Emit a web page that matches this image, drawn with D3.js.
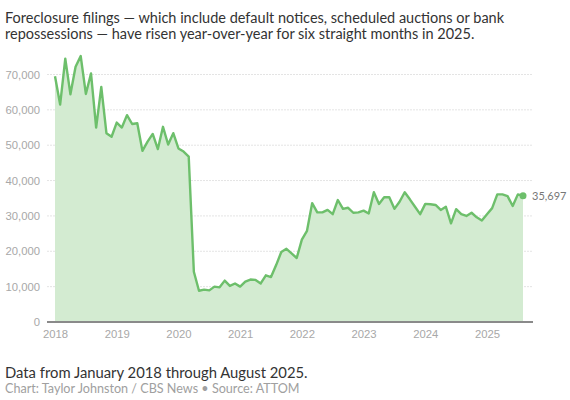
<!DOCTYPE html>
<html>
<head>
<meta charset="utf-8">
<script src="https://cdn.jsdelivr.net/npm/d3@7"></script>
<style>
  body { margin: 0; background: #fff; }
  svg { display: block; font-family: "Lato", "Open Sans", sans-serif; }
  .grid line { stroke: #e4e4e4; stroke-dasharray: 2,1; }
  .axis text { fill: #a8a8a8; font-size: 11.3px; }
</style>
</head>
<body>
<div id="chart"></div>
<script>
var svgWidth = 570;
var svgHeight = 400;

// monthly foreclosure filings, Jan 2018 .. Aug 2025
var startYear = 2018;
var filings = [
  69500, 61500, 74500, 64400, 72200, 75200, 64500, 70300, 55000, 66500, 53400, 52400,
  56400, 55000, 58500, 56000, 56200, 48400, 51000, 53200, 48900, 55200, 50200, 53400,
  49100, 48200, 46800, 14200, 8850, 9150, 8950, 10000, 9800, 11700, 10200, 10900,
  10000, 11400, 12000, 11900, 10900, 13200, 12700, 16100, 19800, 20700, 19400, 18100,
  23300, 25800, 33600, 31000, 31000, 31700, 30500, 34500, 32000, 32300, 30900, 31000,
  31500, 30700, 36700, 33400, 35300, 35300, 32000, 34000, 36700, 34700, 32600, 30500,
  33400, 33300, 33100, 31700, 32600, 27900, 31900, 30500, 30000, 30900, 29600, 28700,
  30500, 32200, 36100, 36100, 35600, 32800, 36100, 35697
];
var yTicks = [0, 10000, 20000, 30000, 40000, 50000, 60000, 70000];
var xTickYears = [2018, 2019, 2020, 2021, 2022, 2023, 2024, 2025];

var subtitle = [
  "Foreclosure filings \u2014 which include default notices, scheduled auctions or bank",
  "repossessions \u2014 have risen year-over-year for six straight months in 2025."
];
var note = "Data from January 2018 through August 2025.";
var credit = "Chart: Taylor Johnston / CBS News \u2022 Source: ATTOM";

var chartMargin = { top: 74, right: 37, bottom: 78, left: 47 };

var svg = d3.select("#chart")
  .append("svg")
  .attr("width", svgWidth)
  .attr("height", svgHeight);

// subtitle
svg.append("g")
  .selectAll("text")
  .data(subtitle)
  .enter()
  .append("text")
  .attr("x", 5)
  .attr("y", (d, i) => 23 + i * 16)
  .attr("fill", "#333")
  .attr("font-size", "14.5px")
  .text(d => d);

var xScale = d3.scaleLinear()
  .domain([0, filings.length - 1])
  .range([55, 523]);

var yScale = d3.scaleLinear()
  .domain([0, 70000])
  .range([322, 74.5]);

// gridlines
svg.append("g")
  .attr("class", "grid")
  .selectAll("line")
  .data(yTicks.slice(1))
  .enter()
  .append("line")
  .attr("x1", chartMargin.left)
  .attr("x2", svgWidth - chartMargin.right)
  .attr("y1", d => yScale(d))
  .attr("y2", d => yScale(d));

var yAxis = d3.axisLeft(yScale)
  .tickValues(yTicks)
  .tickSize(0)
  .tickPadding(7)
  .tickFormat(d3.format(","));

svg.append("g")
  .attr("class", "axis")
  .attr("transform", `translate(${chartMargin.left}, 0)`)
  .call(yAxis)
  .call(g => g.select(".domain").remove());

// area + line
var area = d3.area()
  .x((d, i) => xScale(i))
  .y0(yScale(0))
  .y1(d => yScale(d));

var line = d3.line()
  .x((d, i) => xScale(i))
  .y(d => yScale(d));

svg.append("path")
  .datum(filings)
  .attr("fill", "#d3ebd1")
  .attr("d", area);

svg.append("path")
  .datum(filings)
  .attr("fill", "none")
  .attr("stroke", "#6dbf6b")
  .attr("stroke-width", 2.4)
  .attr("stroke-linejoin", "round")
  .attr("d", line);

// x axis
var xAxis = d3.axisBottom(xScale)
  .tickValues(xTickYears.map(y => (y - startYear) * 12))
  .tickSize(0)
  .tickPadding(8)
  .tickFormat(d => startYear + d / 12);

var xg = svg.append("g")
  .attr("class", "axis")
  .attr("transform", `translate(0, ${yScale(0)})`)
  .call(xAxis);
xg.select(".domain").remove();
xg.append("line")
  .attr("x1", chartMargin.left)
  .attr("x2", svgWidth - chartMargin.right)
  .attr("stroke", "#8a8a8a")
  .attr("stroke-width", 2);

// last value marker
var last = filings.length - 1;
svg.append("circle")
  .attr("cx", xScale(last))
  .attr("cy", yScale(filings[last]))
  .attr("r", 3.5)
  .attr("fill", "#6dbf6b");

svg.append("text")
  .attr("x", xScale(last) + 9)
  .attr("y", yScale(filings[last]) + 4)
  .attr("fill", "#777")
  .attr("font-size", "11px")
  .text(d3.format(",")(filings[last]));

// footer
svg.append("text")
  .attr("x", 5)
  .attr("y", 378)
  .attr("fill", "#333")
  .attr("font-size", "14.8px")
  .text(note);

svg.append("text")
  .attr("x", 5)
  .attr("y", 393)
  .attr("fill", "#a0a0a0")
  .attr("font-size", "12.6px")
  .text(credit);
</script>
</body>
</html>
